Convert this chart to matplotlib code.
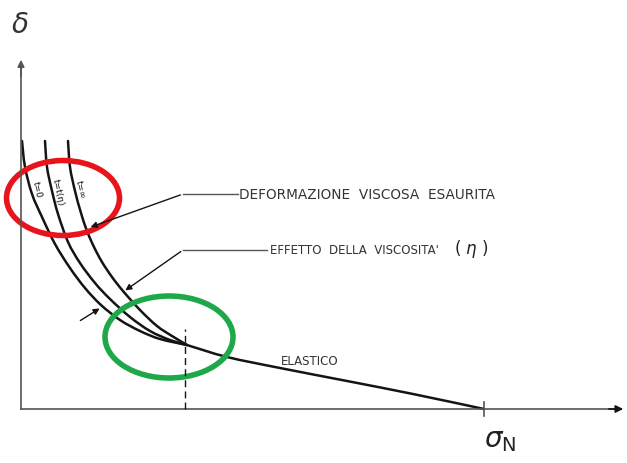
import numpy as np
import matplotlib
matplotlib.use("Agg")
import matplotlib.pyplot as plt
from matplotlib.patches import Ellipse, PathPatch
from matplotlib.path import Path

# curve points (sigma, delta)
curva_t0_x = [1, 4, 11, 21, 34, 49, 64, 80, 99, 119, 139, 166]
curva_t0_y = [268, 242, 215, 192, 165, 141, 121, 104, 89, 78, 70, 64]

curva_teta_x = [24, 26, 31, 37, 47, 59, 74, 89, 109, 129, 149, 166]
curva_teta_y = [268, 242, 218, 195, 167, 146, 126, 110, 92, 78, 69, 64]

curva_tinf_x = [47, 49, 54, 60, 66, 73, 81, 91, 102, 119, 136, 151, 166]
curva_tinf_y = [268, 242, 218, 196, 178, 162, 147, 132, 118, 99, 83, 73, 64]

elastico_x = [166, 206, 259, 326, 392, 463]
elastico_y = [64, 52, 41, 28, 15, 0]

sigma_n = 463
sigma_soglia = 164

etichette_curve = ["t=0", "t=t(\u03b7)", "t=\u221e"]


def curva_liscia(xs, ys):
    # Catmull-Rom -> Bezier, solo per disegnare una linea morbida
    p = np.column_stack([xs, ys]).astype(float)
    p = np.vstack([p[0], p, p[-1]])
    verts = [p[1]]
    codes = [Path.MOVETO]
    for i in range(1, len(p) - 2):
        c1 = p[i] + (p[i + 1] - p[i - 1]) / 6
        c2 = p[i + 1] - (p[i + 2] - p[i]) / 6
        verts += [c1, c2, p[i + 1]]
        codes += [Path.CURVE4] * 3
    return Path(verts, codes)


fig = plt.figure(figsize=(6.27, 4.64), dpi=100)
ax = fig.add_axes([0, 0, 1, 1])
ax.set_xlim(-21, 606)
ax.set_ylim(-54, 410)
ax.axis("off")

nero = "#141414"
grigio = "#555555"

# assi
ax.plot([0, 0], [0, 345], color=grigio, lw=1.2)
ax.annotate("", xy=(0, 352), xytext=(0, 330),
            arrowprops=dict(arrowstyle="-|>", color=grigio, lw=1.2, mutation_scale=10))
ax.plot([0, 600], [0, 0], color=grigio, lw=1.2)
ax.annotate("", xy=(605, 0), xytext=(585, 0),
            arrowprops=dict(arrowstyle="-|>", color=nero, lw=1.2, mutation_scale=11))
ax.plot([sigma_n, sigma_n], [-7, 7], color=grigio, lw=1.2)

# curve
for xs, ys in [(curva_t0_x, curva_t0_y), (curva_teta_x, curva_teta_y),
               (curva_tinf_x, curva_tinf_y), (elastico_x, elastico_y)]:
    ax.add_patch(PathPatch(curva_liscia(xs, ys), fill=False, ec=nero, lw=1.8,
                           capstyle="round", joinstyle="round"))

ax.plot([sigma_soglia, sigma_soglia], [0, 80], color=nero, lw=1.0, ls=(0, (5, 3)))

# etichette sulle curve
for (x, y), lab in zip([(16, 220), (37, 217), (59, 220)], etichette_curve):
    ax.text(x, y, lab, rotation=-78, fontsize=6.5, ha="center", va="center", color=nero)

# richiami
ax.plot([162, 217], [215, 215], color=grigio, lw=1.0)
ax.annotate("", xy=(67, 181), xytext=(162, 215),
            arrowprops=dict(arrowstyle="-|>", color=nero, lw=1.0, mutation_scale=9))
ax.text(218, 215, "DEFORMAZIONE  VISCOSA  ESAURITA", fontsize=9.8, va="center",
        color="#333333")

ax.plot([162, 246], [159, 159], color=grigio, lw=1.0)
ax.annotate("", xy=(102, 117), xytext=(162, 159),
            arrowprops=dict(arrowstyle="-|>", color=nero, lw=1.0, mutation_scale=9))
ax.text(249, 159, "EFFETTO  DELLA  VISCOSITA'", fontsize=8.5, va="center",
        color="#333333")
ax.text(450, 161, "( $\\eta$ )", fontsize=12, ha="center", va="center", color="#222222")

ax.annotate("", xy=(81, 102), xytext=(57, 87),
            arrowprops=dict(arrowstyle="-|>", color=nero, lw=1.0, mutation_scale=9))

ax.text(289, 48, "ELASTICO", fontsize=8.5, ha="center", va="center", color="#333333")

ax.text(479, -30, "$\\sigma_{\\mathrm{N}}$", fontsize=20, ha="center", va="center",
        color="#222222")
ax.text(-1, 385, "$\\delta$", fontsize=20, ha="center", va="center", color="#333333")

# ellissi evidenziate
ax.add_patch(Ellipse((42, 211), 113, 75, fill=False, ec="#e8141c", lw=4))
ax.add_patch(Ellipse((148, 72), 128, 82, fill=False, ec="#1ea84a", lw=4))

fig.savefig("out.png", dpi=100)
